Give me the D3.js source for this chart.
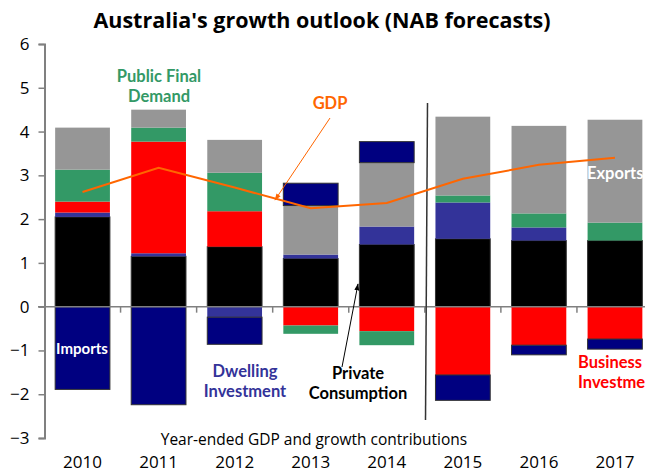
<!DOCTYPE html>
<html>
<head>
<meta charset="utf-8">
<script src="https://cdn.jsdelivr.net/npm/d3@7"></script>
<style>
  body { margin: 0; background: #fff; }
  text { font-family: "Open Sans", sans-serif; }
</style>
</head>
<body>
<div id="chart"></div>
<script>
// chart data
const years = ['2010', '2011', '2012', '2013', '2014', '2015', '2016', '2017'];
const consumption = [2.05, 1.15, 1.37, 1.10, 1.42, 1.55, 1.51, 1.51];
const dwelling = [0.10, 0.07, -0.24, 0.09, 0.41, 0.83, 0.30, 0];
const business = [0.25, 2.55, 0.81, -0.43, -0.56, -1.56, -0.88, -0.74];
const publicDemand = [0.73, 0.32, 0.88, -0.19, -0.32, 0.16, 0.32, 0.41];
const exportsC = [0.96, 0.41, 0.75, 1.12, 1.46, 1.80, 2.00, 2.35];
const importsC = [-1.89, -2.24, -0.62, 0.51, 0.48, -0.58, -0.22, -0.23];
const gdp = [2.62, 3.17, 2.72, 2.25, 2.37, 2.92, 3.24, 3.40];
const yTicks = [-3, -2, -1, 0, 1, 2, 3, 4, 5, 6];

const keys = ['consumption', 'dwelling', 'business', 'public', 'exports', 'imports'];
const colors = {
  consumption: '#000000',
  dwelling: '#333399',
  business: '#ff0000',
  public: '#339966',
  exports: '#969696',
  imports: '#000080'
};

const rows = years.map((yr, i) => ({
  year: yr,
  consumption: consumption[i],
  dwelling: dwelling[i],
  business: business[i],
  public: publicDemand[i],
  exports: exportsC[i],
  imports: importsC[i]
}));

const width = 645, height = 476;
const svg = d3.select('#chart').append('svg')
  .attr('width', width)
  .attr('height', height);

// scales
const x = d3.scaleBand()
  .domain(years)
  .range([44.5, 653])
  .paddingInner(0.28)
  .paddingOuter(0.14);

const y = d3.scaleLinear()
  .domain([-3, 6])
  .range([438, 44]);

// title
svg.append('text')
  .attr('x', 322)
  .attr('y', 28)
  .attr('text-anchor', 'middle')
  .style('font-size', '21.5px')
  .style('font-weight', 'bold')
  .text("Australia's growth outlook (NAB forecasts)");

// stacked bars
const series = d3.stack()
  .keys(keys)
  .offset(d3.stackOffsetDiverging)(rows);

svg.append('g')
  .selectAll('g')
  .data(series)
  .enter().append('g')
  .attr('fill', d => colors[d.key])
  .attr('stroke', d => (d.key === 'imports' || d.key === 'consumption') ? '#333' : 'none')
  .attr('stroke-width', 1)
  .selectAll('rect')
  .data(d => d)
  .enter().append('rect')
  .attr('x', d => x(d.data.year))
  .attr('width', x.bandwidth())
  .attr('y', d => y(Math.max(d[0], d[1])))
  .attr('height', d => Math.abs(y(d[0]) - y(d[1])));

// y axis
const yAxis = svg.append('g')
  .attr('transform', 'translate(44.5,0)')
  .call(d3.axisLeft(y).tickValues(yTicks).tickSize(6).tickPadding(9));
yAxis.select('.domain').attr('stroke', '#808080').attr('stroke-width', 2);
yAxis.selectAll('.tick line').attr('stroke', '#808080').attr('stroke-width', 1.5);
yAxis.selectAll('.tick text')
  .style('font-size', '17px')
  .style('font-family', '"Open Sans", sans-serif')
  .attr('fill', '#000');

// zero line with ticks between the years
svg.append('line')
  .attr('x1', 38).attr('x2', 645)
  .attr('y1', y(0)).attr('y2', y(0))
  .attr('stroke', '#808080')
  .attr('stroke-width', 1.5);

svg.append('g')
  .selectAll('line')
  .data(years.slice(1))
  .enter().append('line')
  .attr('x1', d => x(d) - x.step() * x.paddingInner() / 2)
  .attr('x2', d => x(d) - x.step() * x.paddingInner() / 2)
  .attr('y1', y(0))
  .attr('y2', y(0) + 6)
  .attr('stroke', '#808080')
  .attr('stroke-width', 1.5);

// year labels
const xAxis = svg.append('g')
  .attr('transform', 'translate(0,456)')
  .call(d3.axisBottom(x).tickSize(0).tickPadding(0));
xAxis.select('.domain').remove();
xAxis.selectAll('.tick text')
  .style('font-size', '17px')
  .style('font-family', '"Open Sans", sans-serif')
  .attr('fill', '#000');

// axis caption
svg.append('text')
  .attr('x', 314)
  .attr('y', 445)
  .attr('text-anchor', 'middle')
  .style('font-size', '15.5px')
  .text('Year-ended GDP and growth contributions');

// forecast divider
svg.append('line')
  .attr('x1', 427.5).attr('y1', 103)
  .attr('x2', 425.5).attr('y2', 420)
  .attr('stroke', '#333')
  .attr('stroke-width', 1.5);

// GDP line
const line = d3.line()
  .x((d, i) => x(years[i]) + x.bandwidth() / 2)
  .y(d => y(d));

svg.append('path')
  .datum(gdp)
  .attr('d', line)
  .attr('fill', 'none')
  .attr('stroke', '#ff6600')
  .attr('stroke-width', 2);

// arrow heads
const defs = svg.append('defs');
function marker(id, col) {
  defs.append('marker')
    .attr('id', id)
    .attr('viewBox', '0 0 10 10')
    .attr('refX', 9).attr('refY', 5)
    .attr('markerWidth', 7).attr('markerHeight', 7)
    .attr('orient', 'auto')
    .append('path')
    .attr('d', 'M0,1.5 L10,5 L0,8.5 z')
    .attr('fill', col);
}
marker('arrOrange', '#ff6600');
marker('arrBlack', '#000');

svg.append('line')
  .attr('x1', 330).attr('y1', 118)
  .attr('x2', 275).attr('y2', 200)
  .attr('stroke', '#ff6600')
  .attr('stroke-width', 1)
  .attr('marker-end', 'url(#arrOrange)');

svg.append('line')
  .attr('x1', 342).attr('y1', 367)
  .attr('x2', 358).attr('y2', 284)
  .attr('stroke', '#000')
  .attr('stroke-width', 1)
  .attr('marker-end', 'url(#arrBlack)');

// annotations
function label(lines, cx, cy, col, size, anchor) {
  const t = svg.append('text')
    .attr('text-anchor', anchor || 'middle')
    .attr('fill', col)
    .style('font-family', 'Lato, sans-serif')
    .style('font-size', size + 'px')
    .style('font-weight', 'bold');
  lines.forEach((s, i) => {
    t.append('tspan')
      .attr('x', cx)
      .attr('y', cy + i * 19.5)
      .text(s);
  });
}

label(['Public Final', 'Demand'], 159, 82, '#339966', 16.5);
label(['GDP'], 330, 109, '#ff6600', 16.5);
label(['Exports'], 587, 179, '#ffffff', 16.5, 'start');
label(['Imports'], 82, 354, '#ffffff', 15);
label(['Dwelling', 'Investment'], 245, 377, '#333399', 16.5);
label(['Private', 'Consumption'], 358, 379, '#000000', 16.5);
label(['Business', 'Investment'], 578, 368, '#ff0000', 16.5, 'start');
</script>
</body>
</html>
